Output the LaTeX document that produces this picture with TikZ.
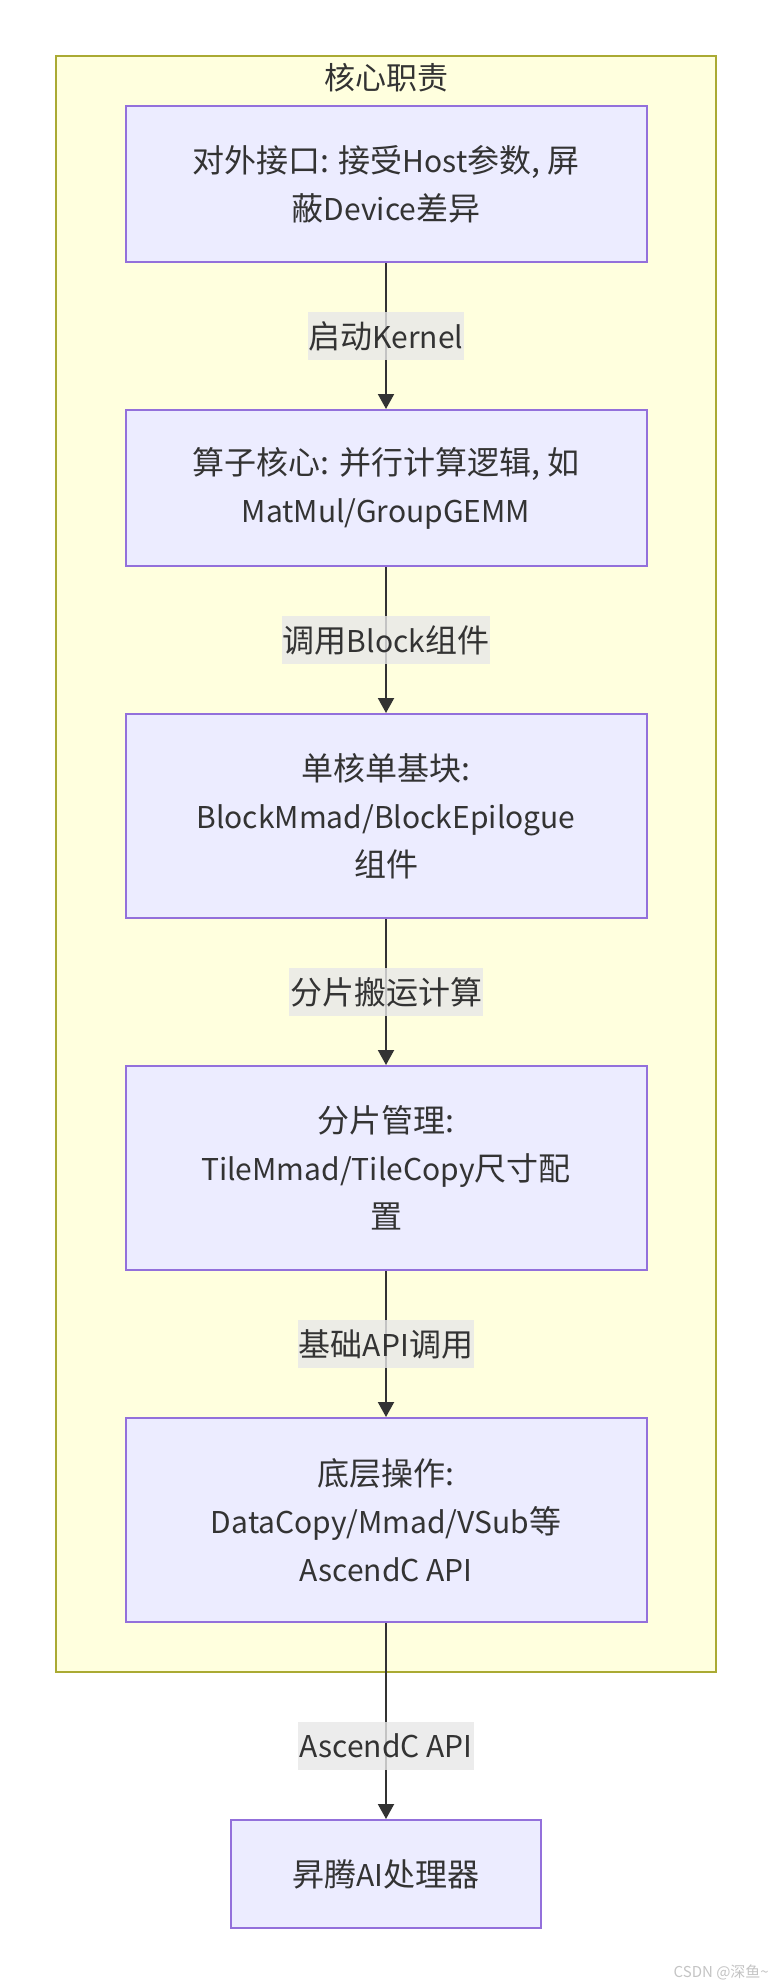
\documentclass[tikz,border=0pt]{standalone}
\usepackage{fontspec}
\setmainfont{Noto Sans CJK SC}
\usetikzlibrary{arrows.meta}
\definecolor{grpfill}{HTML}{FFFFDE}
\definecolor{grpline}{HTML}{AAAA33}
\definecolor{boxfill}{HTML}{ECECFF}
\definecolor{boxline}{HTML}{9370DB}
\definecolor{edgec}{HTML}{333333}
\definecolor{txt}{HTML}{333333}
\definecolor{lblfill}{HTML}{E8E8E8}
\definecolor{wm}{HTML}{C4C4C4}
\newcommand\lt[1]{{\fontsize{30pt}{48pt}\selectfont #1}}
\tikzset{
  grp/.style={draw=grpline, fill=grpfill, line width=2pt},
  stepbox/.style={draw=boxline, fill=boxfill, line width=2pt, rectangle,
    minimum width=521pt, inner sep=0pt, align=center, text=txt,
    font=\fontsize{32pt}{48pt}\selectfont},
  edgelbl/.style={fill=lblfill, fill opacity=0.8, text opacity=1, text=txt,
    inner xsep=1pt, inner ysep=0pt, minimum height=48pt,
    font=\fontsize{32pt}{48pt}\selectfont},
  flow/.style={draw=edgec, line width=2pt, -{Triangle[length=15pt,width=16pt]}},
}
\begin{document}
\begin{tikzpicture}[x=1pt,y=-1pt]
\useasboundingbox (0,0) rectangle (772,1984);
\fill[white] (0,0) rectangle (772,1984);
% group
\draw[grp] (56,56) rectangle (716,1672);
\node[text=txt, font=\fontsize{31pt}{36pt}\selectfont] (title) at (386,78) {核心职责};
% boxes
\node[stepbox, minimum height=156pt] (b1) at (386,184) {对外接口: 接受\lt{Host}参数, 屏\\蔽\lt{Device}差异};
\node[stepbox, minimum height=156pt] (b2) at (386,488) {算子核心: 并行计算逻辑, 如\\\lt{MatMul/GroupGEMM}};
\node[stepbox, minimum height=204pt] (b3) at (386,816) {单核单基块:\\\lt{BlockMmad/BlockEpilogue}\\组件};
\node[stepbox, minimum height=204pt] (b4) at (386,1168) {分片管理:\\\lt{TileMmad/TileCopy}尺寸配\\置};
\node[stepbox, minimum height=204pt] (b5) at (386,1520) {底层操作:\\\lt{DataCopy/Mmad/VSub}等\\\lt{AscendC API}};
\node[stepbox, minimum width=310pt, minimum height=108pt] (b6) at (386,1874) {昇腾\lt{AI}处理器};
% edges
\draw[flow] (b1.south) -- node[edgelbl] (l1) {启动\lt{Kernel}} (b2.north);
\draw[flow] (b2.south) -- node[edgelbl] (l2) {调用\lt{Block}组件} (b3.north);
\draw[flow] (b3.south) -- node[edgelbl] (l3) {分片搬运计算} (b4.north);
\draw[flow] (b4.south) -- node[edgelbl] (l4) {基础\lt{API}调用} (b5.north);
\draw[flow] (b5.south) -- node[edgelbl, pos=0.626] (l5) {\lt{AscendC API}} (b6.north);
% watermark
\node[anchor=east, text=wm, inner sep=0pt, font=\fontsize{15pt}{18pt}\selectfont] (wmk) at (769,1972) {CSDN @深鱼\textasciitilde};
\end{tikzpicture}
\end{document}
